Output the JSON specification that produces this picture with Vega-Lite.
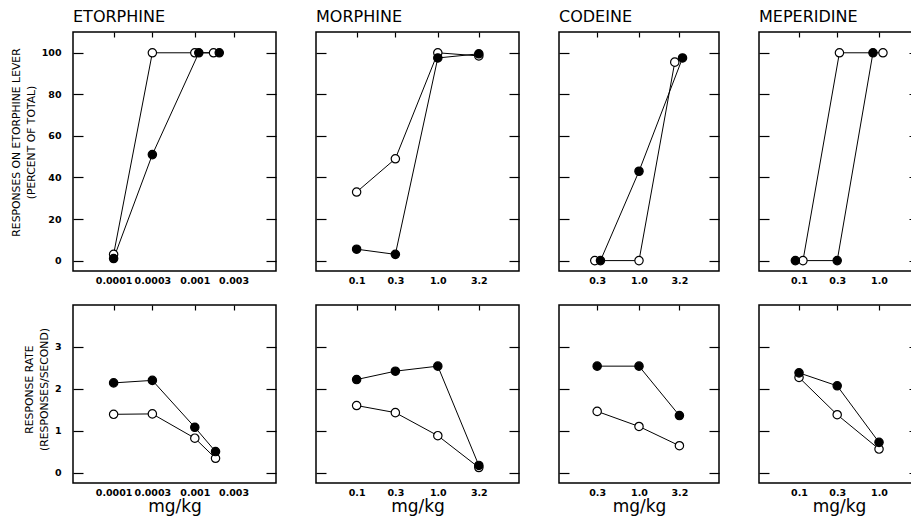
{
 "$schema": "https://vega.github.io/schema/vega-lite/v6.json",
 "background": "white",
 "padding": {"left": 9, "top": 8, "right": 0, "bottom": 0},
 "config": {
   "view": {"stroke": "black", "strokeWidth": 1.5},
   "axis": {"domain": false, "grid": false, "labelFont": "DejaVu Sans", "labelFontSize": 9.5, "labelFontWeight": "bold", "labelColor": "black", "tickColor": "black", "tickWidth": 1.2, "titleFont": "DejaVu Sans", "titleFontWeight": "normal", "titleColor": "black"},
   "title": {"font": "DejaVu Sans", "fontSize": 16, "fontWeight": "normal", "anchor": "start", "frame": "group", "color": "black", "offset": 6}
 },
 "datasets": {"d": [
  {"drug": "ETORPHINE", "measure": "lever", "series": "open", "dose": 0.0001, "value": 3},
  {"drug": "ETORPHINE", "measure": "lever", "series": "open", "dose": 0.0003, "value": 100},
  {"drug": "ETORPHINE", "measure": "lever", "series": "open", "dose": 0.001, "value": 100},
  {"drug": "ETORPHINE", "measure": "lever", "series": "open", "dose": 0.0017, "value": 100},
  {"drug": "ETORPHINE", "measure": "lever", "series": "filled", "dose": 0.0001, "value": 1},
  {"drug": "ETORPHINE", "measure": "lever", "series": "filled", "dose": 0.0003, "value": 51},
  {"drug": "ETORPHINE", "measure": "lever", "series": "filled", "dose": 0.00112, "value": 100},
  {"drug": "ETORPHINE", "measure": "lever", "series": "filled", "dose": 0.002, "value": 100},
  {"drug": "ETORPHINE", "measure": "rate", "series": "open", "dose": 0.0001, "value": 1.39},
  {"drug": "ETORPHINE", "measure": "rate", "series": "open", "dose": 0.0003, "value": 1.4},
  {"drug": "ETORPHINE", "measure": "rate", "series": "open", "dose": 0.001, "value": 0.82},
  {"drug": "ETORPHINE", "measure": "rate", "series": "open", "dose": 0.0018, "value": 0.34},
  {"drug": "ETORPHINE", "measure": "rate", "series": "filled", "dose": 0.0001, "value": 2.14},
  {"drug": "ETORPHINE", "measure": "rate", "series": "filled", "dose": 0.0003, "value": 2.2},
  {"drug": "ETORPHINE", "measure": "rate", "series": "filled", "dose": 0.001, "value": 1.08},
  {"drug": "ETORPHINE", "measure": "rate", "series": "filled", "dose": 0.0018, "value": 0.5},
  {"drug": "MORPHINE", "measure": "lever", "series": "open", "dose": 0.1, "value": 33},
  {"drug": "MORPHINE", "measure": "lever", "series": "open", "dose": 0.3, "value": 49},
  {"drug": "MORPHINE", "measure": "lever", "series": "open", "dose": 1.0, "value": 100},
  {"drug": "MORPHINE", "measure": "lever", "series": "open", "dose": 3.2, "value": 98.5},
  {"drug": "MORPHINE", "measure": "lever", "series": "filled", "dose": 0.1, "value": 5.5},
  {"drug": "MORPHINE", "measure": "lever", "series": "filled", "dose": 0.3, "value": 3},
  {"drug": "MORPHINE", "measure": "lever", "series": "filled", "dose": 1.0, "value": 97.5},
  {"drug": "MORPHINE", "measure": "lever", "series": "filled", "dose": 3.2, "value": 99.5},
  {"drug": "MORPHINE", "measure": "rate", "series": "open", "dose": 0.1, "value": 1.6},
  {"drug": "MORPHINE", "measure": "rate", "series": "open", "dose": 0.3, "value": 1.43},
  {"drug": "MORPHINE", "measure": "rate", "series": "open", "dose": 1.0, "value": 0.88},
  {"drug": "MORPHINE", "measure": "rate", "series": "open", "dose": 3.2, "value": 0.12},
  {"drug": "MORPHINE", "measure": "rate", "series": "filled", "dose": 0.1, "value": 2.22},
  {"drug": "MORPHINE", "measure": "rate", "series": "filled", "dose": 0.3, "value": 2.42},
  {"drug": "MORPHINE", "measure": "rate", "series": "filled", "dose": 1.0, "value": 2.54},
  {"drug": "MORPHINE", "measure": "rate", "series": "filled", "dose": 3.2, "value": 0.17},
  {"drug": "CODEINE", "measure": "lever", "series": "open", "dose": 0.28, "value": 0},
  {"drug": "CODEINE", "measure": "lever", "series": "open", "dose": 1.0, "value": 0},
  {"drug": "CODEINE", "measure": "lever", "series": "open", "dose": 2.8, "value": 95.5},
  {"drug": "CODEINE", "measure": "lever", "series": "filled", "dose": 0.33, "value": 0},
  {"drug": "CODEINE", "measure": "lever", "series": "filled", "dose": 1.0, "value": 43},
  {"drug": "CODEINE", "measure": "lever", "series": "filled", "dose": 3.5, "value": 97.5},
  {"drug": "CODEINE", "measure": "rate", "series": "open", "dose": 0.3, "value": 1.46},
  {"drug": "CODEINE", "measure": "rate", "series": "open", "dose": 1.0, "value": 1.1},
  {"drug": "CODEINE", "measure": "rate", "series": "open", "dose": 3.2, "value": 0.64},
  {"drug": "CODEINE", "measure": "rate", "series": "filled", "dose": 0.3, "value": 2.54},
  {"drug": "CODEINE", "measure": "rate", "series": "filled", "dose": 1.0, "value": 2.54},
  {"drug": "CODEINE", "measure": "rate", "series": "filled", "dose": 3.2, "value": 1.36},
  {"drug": "MEPERIDINE", "measure": "lever", "series": "open", "dose": 0.112, "value": 0},
  {"drug": "MEPERIDINE", "measure": "lever", "series": "open", "dose": 0.32, "value": 100},
  {"drug": "MEPERIDINE", "measure": "lever", "series": "open", "dose": 1.12, "value": 100},
  {"drug": "MEPERIDINE", "measure": "lever", "series": "filled", "dose": 0.09, "value": 0},
  {"drug": "MEPERIDINE", "measure": "lever", "series": "filled", "dose": 0.3, "value": 0},
  {"drug": "MEPERIDINE", "measure": "lever", "series": "filled", "dose": 0.84, "value": 100},
  {"drug": "MEPERIDINE", "measure": "rate", "series": "open", "dose": 0.1, "value": 2.27},
  {"drug": "MEPERIDINE", "measure": "rate", "series": "open", "dose": 0.3, "value": 1.38},
  {"drug": "MEPERIDINE", "measure": "rate", "series": "open", "dose": 1.0, "value": 0.56},
  {"drug": "MEPERIDINE", "measure": "rate", "series": "filled", "dose": 0.1, "value": 2.38},
  {"drug": "MEPERIDINE", "measure": "rate", "series": "filled", "dose": 0.3, "value": 2.07},
  {"drug": "MEPERIDINE", "measure": "rate", "series": "filled", "dose": 1.0, "value": 0.72}
 ]},
 "data": {"name": "d"},
 "columns": 4,
 "align": "each",
 "spacing": {"row": 17, "column": 36},
 "concat": [
  {
   "width": 203, "height": 239, "title": "ETORPHINE",
   "transform": [{"filter": "datum.drug == 'ETORPHINE' && datum.measure == 'lever'"}],
   "layer": [
    {"mark": {"type": "line", "color": "black", "strokeWidth": 1},
     "encoding": {
      "x": {"field": "dose", "type": "quantitative", "scale": {"type": "log", "domain": [0.0000316, 0.01], "nice": false}, "axis": {"orient": "bottom", "values": [0.0001, 0.0003, 0.001, 0.003], "format": ".4~f", "ticks": false, "labelPadding": 4, "title": null}},
      "y": {"field": "value", "type": "quantitative", "scale": {"domain": [-5, 110], "nice": false, "zero": false}, "axis": {"orient": "left", "values": [0, 20, 40, 60, 80, 100], "tickSize": -10, "labelPadding": 22, "title": ["RESPONSES ON ETORPHINE LEVER", "(PERCENT OF TOTAL)"], "titleFontSize": 10.8, "titleLineHeight": 15, "titlePadding": 5, "titleY": 110}},
      "detail": {"field": "series"}
     }},
    {"mark": {"type": "point", "filled": true, "shape": "circle", "size": 70, "stroke": "black", "strokeWidth": 1.2, "opacity": 1},
     "encoding": {
      "x": {"field": "dose", "type": "quantitative", "axis": {"orient": "top", "values": [0.0001, 0.0003, 0.001, 0.003], "labels": false, "tickSize": -5, "title": null}},
      "y": {"field": "value", "type": "quantitative", "axis": {"orient": "right", "values": [0, 20, 40, 60, 80, 100], "labels": false, "tickSize": -10, "title": null}},
      "fill": {"field": "series", "type": "nominal", "scale": {"domain": ["open", "filled"], "range": ["white", "black"]}, "legend": null}
     }}
   ],
   "resolve": {"axis": {"x": "independent", "y": "independent"}}
  },
  {
   "width": 203, "height": 239, "title": "MORPHINE",
   "transform": [{"filter": "datum.drug == 'MORPHINE' && datum.measure == 'lever'"}],
   "layer": [
    {"mark": {"type": "line", "color": "black", "strokeWidth": 1},
     "encoding": {
      "x": {"field": "dose", "type": "quantitative", "scale": {"type": "log", "domain": [0.0316, 10], "nice": false}, "axis": {"orient": "bottom", "values": [0.1, 0.3, 1, 3.2], "format": ".1f", "ticks": false, "labelPadding": 4, "title": null}},
      "y": {"field": "value", "type": "quantitative", "scale": {"domain": [-5, 110], "nice": false, "zero": false}, "axis": {"orient": "left", "values": [0, 20, 40, 60, 80, 100], "tickSize": -10, "labels": false, "title": null}},
      "detail": {"field": "series"}
     }},
    {"mark": {"type": "point", "filled": true, "shape": "circle", "size": 70, "stroke": "black", "strokeWidth": 1.2, "opacity": 1},
     "encoding": {
      "x": {"field": "dose", "type": "quantitative", "axis": {"orient": "top", "values": [0.1, 0.3, 1, 3.2], "labels": false, "tickSize": -5, "title": null}},
      "y": {"field": "value", "type": "quantitative", "axis": {"orient": "right", "values": [0, 20, 40, 60, 80, 100], "labels": false, "tickSize": -10, "title": null}},
      "fill": {"field": "series", "type": "nominal", "scale": {"domain": ["open", "filled"], "range": ["white", "black"]}, "legend": null}
     }}
   ],
   "resolve": {"axis": {"x": "independent", "y": "independent"}}
  },
  {
   "width": 160, "height": 239, "title": "CODEINE",
   "transform": [{"filter": "datum.drug == 'CODEINE' && datum.measure == 'lever'"}],
   "layer": [
    {"mark": {"type": "line", "color": "black", "strokeWidth": 1},
     "encoding": {
      "x": {"field": "dose", "type": "quantitative", "scale": {"type": "log", "domain": [0.1, 10], "nice": false}, "axis": {"orient": "bottom", "values": [0.3, 1, 3.2], "format": ".1f", "ticks": false, "labelPadding": 4, "title": null}},
      "y": {"field": "value", "type": "quantitative", "scale": {"domain": [-5, 110], "nice": false, "zero": false}, "axis": {"orient": "left", "values": [0, 20, 40, 60, 80, 100], "tickSize": -10, "labels": false, "title": null}},
      "detail": {"field": "series"}
     }},
    {"mark": {"type": "point", "filled": true, "shape": "circle", "size": 70, "stroke": "black", "strokeWidth": 1.2, "opacity": 1},
     "encoding": {
      "x": {"field": "dose", "type": "quantitative", "axis": {"orient": "top", "values": [0.3, 1, 3.2], "labels": false, "tickSize": -5, "title": null}},
      "y": {"field": "value", "type": "quantitative", "axis": {"orient": "right", "values": [0, 20, 40, 60, 80, 100], "labels": false, "tickSize": -10, "title": null}},
      "fill": {"field": "series", "type": "nominal", "scale": {"domain": ["open", "filled"], "range": ["white", "black"]}, "legend": null}
     }}
   ],
   "resolve": {"axis": {"x": "independent", "y": "independent"}}
  },
  {
   "width": 160, "height": 239, "title": "MEPERIDINE",
   "transform": [{"filter": "datum.drug == 'MEPERIDINE' && datum.measure == 'lever'"}],
   "layer": [
    {"mark": {"type": "line", "color": "black", "strokeWidth": 1},
     "encoding": {
      "x": {"field": "dose", "type": "quantitative", "scale": {"type": "log", "domain": [0.0316, 3.16], "nice": false}, "axis": {"orient": "bottom", "values": [0.1, 0.3, 1], "format": ".1f", "ticks": false, "labelPadding": 4, "title": null}},
      "y": {"field": "value", "type": "quantitative", "scale": {"domain": [-5, 110], "nice": false, "zero": false}, "axis": {"orient": "left", "values": [0, 20, 40, 60, 80, 100], "tickSize": -10, "labels": false, "title": null}},
      "detail": {"field": "series"}
     }},
    {"mark": {"type": "point", "filled": true, "shape": "circle", "size": 70, "stroke": "black", "strokeWidth": 1.2, "opacity": 1},
     "encoding": {
      "x": {"field": "dose", "type": "quantitative", "axis": {"orient": "top", "values": [0.1, 0.3, 1], "labels": false, "tickSize": -5, "title": null}},
      "y": {"field": "value", "type": "quantitative", "axis": {"orient": "right", "values": [0, 20, 40, 60, 80, 100], "labels": false, "tickSize": -10, "title": null}},
      "fill": {"field": "series", "type": "nominal", "scale": {"domain": ["open", "filled"], "range": ["white", "black"]}, "legend": null}
     }}
   ],
   "resolve": {"axis": {"x": "independent", "y": "independent"}}
  },
  {
   "width": 203, "height": 178,
   "transform": [{"filter": "datum.drug == 'ETORPHINE' && datum.measure == 'rate'"}],
   "layer": [
    {"mark": {"type": "line", "color": "black", "strokeWidth": 1},
     "encoding": {
      "x": {"field": "dose", "type": "quantitative", "scale": {"type": "log", "domain": [0.0000316, 0.01], "nice": false}, "axis": {"orient": "bottom", "values": [0.0001, 0.0003, 0.001, 0.003], "format": ".4~f", "ticks": false, "labelPadding": 4, "title": "mg/kg", "titleFontSize": 17, "titlePadding": 2}},
      "y": {"field": "value", "type": "quantitative", "scale": {"domain": [-0.25, 4], "nice": false, "zero": false}, "axis": {"orient": "left", "values": [0, 1, 2, 3], "tickSize": -10, "labelPadding": 22, "title": ["RESPONSE RATE", "(RESPONSES/SECOND)"], "titleFontSize": 10.8, "titleLineHeight": 15, "titlePadding": 5, "titleY": 84}},
      "detail": {"field": "series"}
     }},
    {"mark": {"type": "point", "filled": true, "shape": "circle", "size": 70, "stroke": "black", "strokeWidth": 1.2, "opacity": 1},
     "encoding": {
      "x": {"field": "dose", "type": "quantitative", "axis": {"orient": "top", "values": [0.0001, 0.0003, 0.001, 0.003], "labels": false, "tickSize": -5, "title": null}},
      "y": {"field": "value", "type": "quantitative", "axis": {"orient": "right", "values": [0, 1, 2, 3], "labels": false, "tickSize": -10, "title": null}},
      "fill": {"field": "series", "type": "nominal", "scale": {"domain": ["open", "filled"], "range": ["white", "black"]}, "legend": null}
     }}
   ],
   "resolve": {"axis": {"x": "independent", "y": "independent"}}
  },
  {
   "width": 203, "height": 178,
   "transform": [{"filter": "datum.drug == 'MORPHINE' && datum.measure == 'rate'"}],
   "layer": [
    {"mark": {"type": "line", "color": "black", "strokeWidth": 1},
     "encoding": {
      "x": {"field": "dose", "type": "quantitative", "scale": {"type": "log", "domain": [0.0316, 10], "nice": false}, "axis": {"orient": "bottom", "values": [0.1, 0.3, 1, 3.2], "format": ".1f", "ticks": false, "labelPadding": 4, "title": "mg/kg", "titleFontSize": 17, "titlePadding": 2}},
      "y": {"field": "value", "type": "quantitative", "scale": {"domain": [-0.25, 4], "nice": false, "zero": false}, "axis": {"orient": "left", "values": [0, 1, 2, 3], "tickSize": -10, "labels": false, "title": null}},
      "detail": {"field": "series"}
     }},
    {"mark": {"type": "point", "filled": true, "shape": "circle", "size": 70, "stroke": "black", "strokeWidth": 1.2, "opacity": 1},
     "encoding": {
      "x": {"field": "dose", "type": "quantitative", "axis": {"orient": "top", "values": [0.1, 0.3, 1, 3.2], "labels": false, "tickSize": -5, "title": null}},
      "y": {"field": "value", "type": "quantitative", "axis": {"orient": "right", "values": [0, 1, 2, 3], "labels": false, "tickSize": -10, "title": null}},
      "fill": {"field": "series", "type": "nominal", "scale": {"domain": ["open", "filled"], "range": ["white", "black"]}, "legend": null}
     }}
   ],
   "resolve": {"axis": {"x": "independent", "y": "independent"}}
  },
  {
   "width": 160, "height": 178,
   "transform": [{"filter": "datum.drug == 'CODEINE' && datum.measure == 'rate'"}],
   "layer": [
    {"mark": {"type": "line", "color": "black", "strokeWidth": 1},
     "encoding": {
      "x": {"field": "dose", "type": "quantitative", "scale": {"type": "log", "domain": [0.1, 10], "nice": false}, "axis": {"orient": "bottom", "values": [0.3, 1, 3.2], "format": ".1f", "ticks": false, "labelPadding": 4, "title": "mg/kg", "titleFontSize": 17, "titlePadding": 2}},
      "y": {"field": "value", "type": "quantitative", "scale": {"domain": [-0.25, 4], "nice": false, "zero": false}, "axis": {"orient": "left", "values": [0, 1, 2, 3], "tickSize": -10, "labels": false, "title": null}},
      "detail": {"field": "series"}
     }},
    {"mark": {"type": "point", "filled": true, "shape": "circle", "size": 70, "stroke": "black", "strokeWidth": 1.2, "opacity": 1},
     "encoding": {
      "x": {"field": "dose", "type": "quantitative", "axis": {"orient": "top", "values": [0.3, 1, 3.2], "labels": false, "tickSize": -5, "title": null}},
      "y": {"field": "value", "type": "quantitative", "axis": {"orient": "right", "values": [0, 1, 2, 3], "labels": false, "tickSize": -10, "title": null}},
      "fill": {"field": "series", "type": "nominal", "scale": {"domain": ["open", "filled"], "range": ["white", "black"]}, "legend": null}
     }}
   ],
   "resolve": {"axis": {"x": "independent", "y": "independent"}}
  },
  {
   "width": 160, "height": 178,
   "transform": [{"filter": "datum.drug == 'MEPERIDINE' && datum.measure == 'rate'"}],
   "layer": [
    {"mark": {"type": "line", "color": "black", "strokeWidth": 1},
     "encoding": {
      "x": {"field": "dose", "type": "quantitative", "scale": {"type": "log", "domain": [0.0316, 3.16], "nice": false}, "axis": {"orient": "bottom", "values": [0.1, 0.3, 1], "format": ".1f", "ticks": false, "labelPadding": 4, "title": "mg/kg", "titleFontSize": 17, "titlePadding": 2}},
      "y": {"field": "value", "type": "quantitative", "scale": {"domain": [-0.25, 4], "nice": false, "zero": false}, "axis": {"orient": "left", "values": [0, 1, 2, 3], "tickSize": -10, "labels": false, "title": null}},
      "detail": {"field": "series"}
     }},
    {"mark": {"type": "point", "filled": true, "shape": "circle", "size": 70, "stroke": "black", "strokeWidth": 1.2, "opacity": 1},
     "encoding": {
      "x": {"field": "dose", "type": "quantitative", "axis": {"orient": "top", "values": [0.1, 0.3, 1], "labels": false, "tickSize": -5, "title": null}},
      "y": {"field": "value", "type": "quantitative", "axis": {"orient": "right", "values": [0, 1, 2, 3], "labels": false, "tickSize": -10, "title": null}},
      "fill": {"field": "series", "type": "nominal", "scale": {"domain": ["open", "filled"], "range": ["white", "black"]}, "legend": null}
     }}
   ],
   "resolve": {"axis": {"x": "independent", "y": "independent"}}
  }
 ]
}
